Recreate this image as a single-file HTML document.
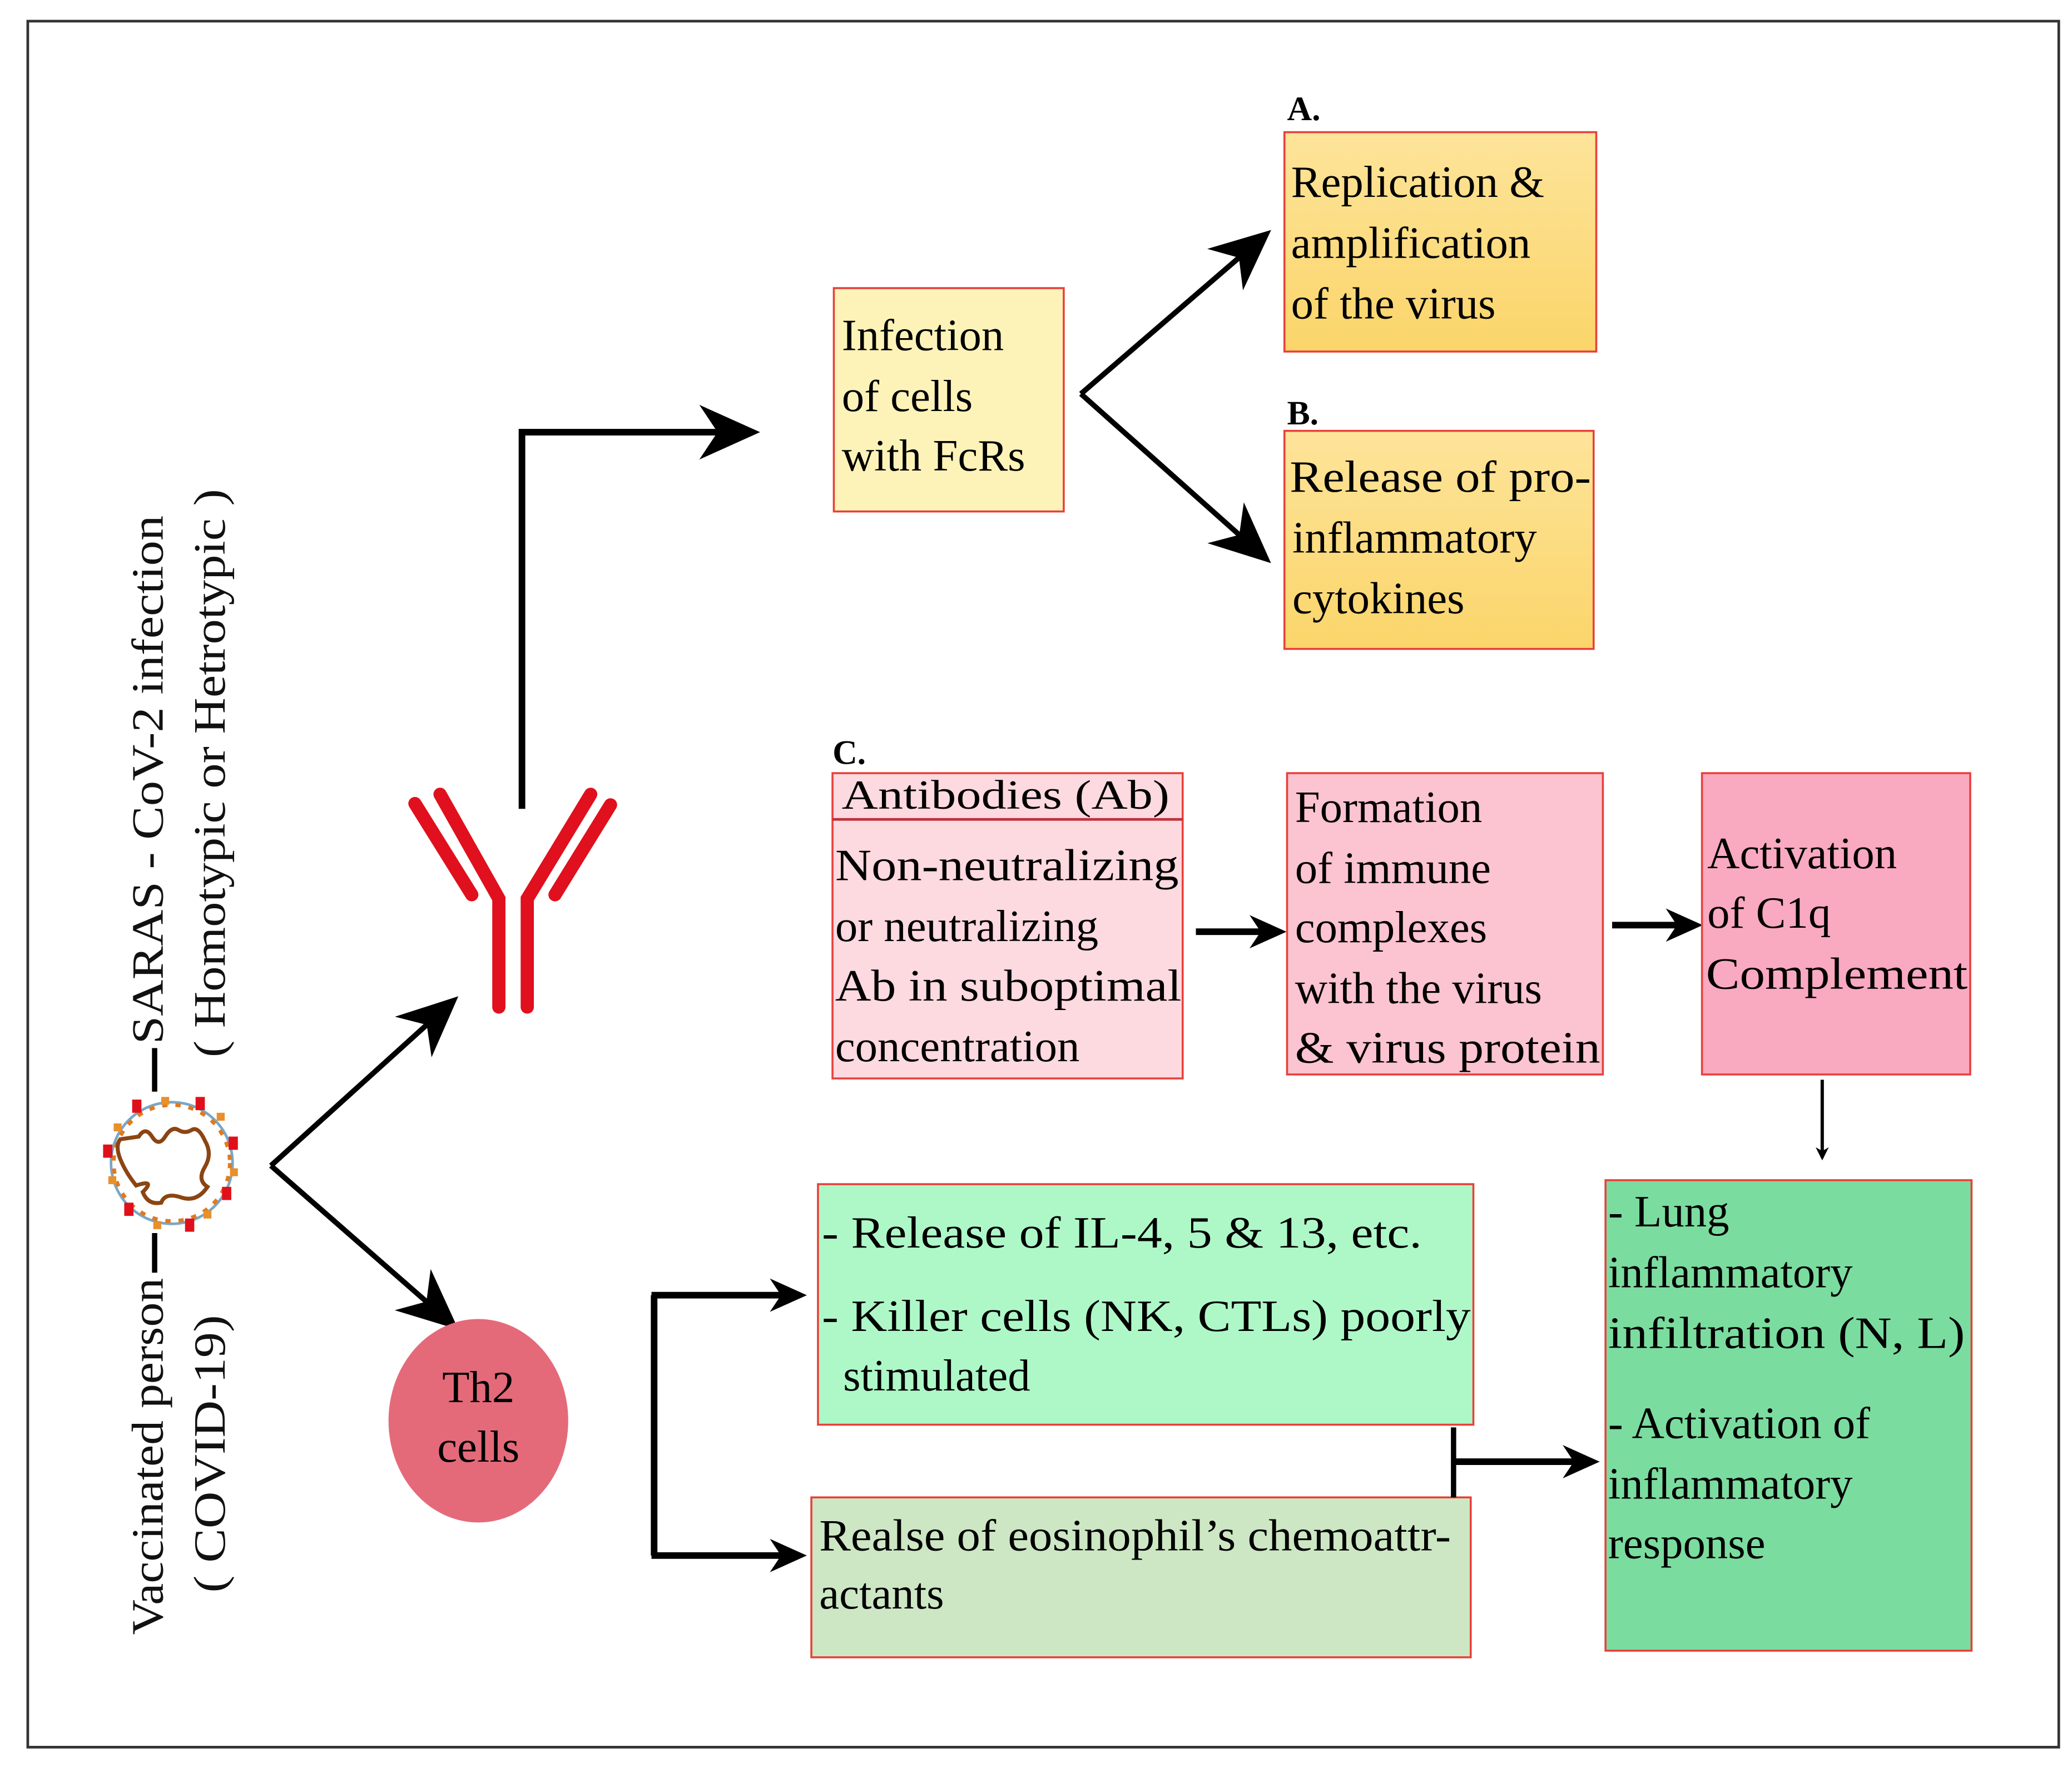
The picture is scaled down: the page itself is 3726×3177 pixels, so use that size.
<!DOCTYPE html>
<html><head><meta charset="utf-8"><style>html,body{margin:0;padding:0;background:#fff}svg{display:block}svg text{font-family:"Liberation Serif","Times New Roman",serif;font-size:34px}</style></head>
<body>
<svg xmlns="http://www.w3.org/2000/svg" width="3726" height="3177" viewBox="0 0 1568 1337">
<defs>
<marker id="ah" viewBox="0 0 20 20" refX="16" refY="10" markerWidth="10" markerHeight="10" markerUnits="userSpaceOnUse" orient="auto"><path d="M0,0 L20,10 L0,20 L6,10 Z" fill="#000"/></marker>
<marker id="ab" viewBox="0 0 20 20" refX="16" refY="10" markerWidth="46" markerHeight="46" markerUnits="userSpaceOnUse" orient="auto"><path d="M0,1 L20,10 L0,19 L6,10 Z" fill="#000"/></marker>
<marker id="am" viewBox="0 0 20 20" refX="16" refY="10" markerWidth="28" markerHeight="28" markerUnits="userSpaceOnUse" orient="auto"><path d="M0,1 L20,10 L0,19 L6,10 Z" fill="#000"/></marker>
<linearGradient id="gy" x1="0" y1="0" x2="0" y2="1"><stop offset="0" stop-color="#fde49a"/><stop offset="1" stop-color="#fbd56a"/></linearGradient>
</defs>
<rect x="0" y="0" width="1568" height="1337" fill="#fff"/>
<rect x="21" y="16" width="1537" height="1306" fill="none" stroke="#333" stroke-width="2"/>

<g fill="#111">
<text transform="translate(123,1237) rotate(-90)" textLength="270" lengthAdjust="spacingAndGlyphs">Vaccinated person</text>
<text transform="translate(123,790) rotate(-90)" textLength="400" lengthAdjust="spacingAndGlyphs">SARAS - CoV-2 infection</text>
<text transform="translate(170,1205) rotate(-90)" textLength="210" lengthAdjust="spacingAndGlyphs">( COVID-19)</text>
<text transform="translate(170,800) rotate(-90)" textLength="430" lengthAdjust="spacingAndGlyphs">( Homotypic or Hetrotypic )</text>
</g>
<line x1="117" y1="963" x2="117" y2="933" stroke="#000" stroke-width="4"/>
<line x1="117" y1="826" x2="117" y2="793" stroke="#000" stroke-width="4"/>

<g transform="translate(130,880)">
<circle r="46" fill="none" stroke="#7aa7c7" stroke-width="2"/>
<circle r="44" fill="none" stroke="#e07a20" stroke-width="3" stroke-dasharray="4 6"/>
<path d="M-25,-20 q5,-8 10,0 t10,0 t10,-5 t10,0 t10,8 q6,10 0,20 t2,15 q-8,12 -20,8 t-15,4 q-10,2 -14,-8 q10,-10 -5,-5 q-8,-10 -12,-20 t0,-15 z" fill="none" stroke="#8b4513" stroke-width="3"/>
<g fill="#e0101a">
<rect x="-52" y="-14" width="7" height="10"/><rect x="43" y="-20" width="7" height="10"/><rect x="38" y="18" width="7" height="10"/>
<rect x="-36" y="30" width="7" height="10"/><rect x="10" y="42" width="7" height="10"/><rect x="-30" y="-48" width="7" height="10"/><rect x="18" y="-50" width="7" height="10"/>
</g>
<g fill="#e8902a">
<rect x="-48" y="10" width="6" height="6"/><rect x="-8" y="-50" width="6" height="6"/><rect x="34" y="-38" width="6" height="6"/><rect x="44" y="4" width="6" height="6"/><rect x="-14" y="44" width="6" height="6"/><rect x="24" y="36" width="6" height="6"/><rect x="-44" y="-30" width="6" height="6"/>
</g>
</g>

<line x1="205" y1="882" x2="340" y2="760" stroke="#000" stroke-width="4" marker-end="url(#ab)"/>
<line x1="205" y1="882" x2="340" y2="1000" stroke="#000" stroke-width="4" marker-end="url(#ab)"/>

<g stroke="#e0101e" stroke-width="10" stroke-linecap="round" fill="none">
<polyline points="377.5,762 377.5,680 333,601"/>
<polyline points="399,762 399,680 447,601"/>
<line x1="314" y1="608" x2="357" y2="677"/>
<line x1="420" y1="677" x2="462" y2="609"/>
</g>
<polyline points="395,612 395,327 566,327" fill="none" stroke="#000" stroke-width="5" marker-end="url(#ab)"/>

<rect x="631" y="218" width="174" height="169" fill="#fdf3b8" stroke="#e8403a" stroke-width="1.5"/>
<text x="637" y="265">Infection</text><text x="637" y="311">of cells</text><text x="637" y="356">with FcRs</text>
<line x1="818" y1="298" x2="955" y2="180" stroke="#000" stroke-width="4" marker-end="url(#ab)"/>
<line x1="818" y1="298" x2="955" y2="420" stroke="#000" stroke-width="4" marker-end="url(#ab)"/>

<text x="974" y="91" font-weight="bold" style="font-size:26px">A.</text>
<rect x="972" y="100" width="236" height="166" fill="url(#gy)" stroke="#e8403a" stroke-width="1.5"/>
<text x="977" y="149">Replication &amp;</text><text x="977" y="195">amplification</text><text x="977" y="241">of the virus</text>
<text x="974" y="321" font-weight="bold" style="font-size:26px">B.</text>
<rect x="972" y="326" width="234" height="165" fill="url(#gy)" stroke="#e8403a" stroke-width="1.5"/>
<text x="976" y="372" textLength="228" lengthAdjust="spacingAndGlyphs">Release of pro-</text><text x="978" y="418">inflammatory</text><text x="978" y="464">cytokines</text>

<text x="630" y="578" font-weight="bold" style="font-size:26px">C.</text>
<rect x="630" y="585" width="265" height="231" fill="#fdd9e0" stroke="#e8403a" stroke-width="1.5"/>
<line x1="630" y1="620" x2="895" y2="620" stroke="#c0303a" stroke-width="2"/>
<text x="637" y="612" style="font-size:31px" textLength="248" lengthAdjust="spacingAndGlyphs">Antibodies (Ab)</text>
<text x="632" y="666" textLength="260" lengthAdjust="spacingAndGlyphs">Non-neutralizing</text>
<text x="632" y="712">or neutralizing</text>
<text x="632" y="757" textLength="262" lengthAdjust="spacingAndGlyphs">Ab in suboptimal</text>
<text x="632" y="803">concentration</text>
<line x1="905" y1="705" x2="968" y2="705" stroke="#000" stroke-width="5" marker-end="url(#am)"/>
<rect x="974" y="585" width="239" height="228" fill="#fcc3d0" stroke="#e8403a" stroke-width="1.5"/>
<text x="980" y="622">Formation</text><text x="980" y="668">of immune</text><text x="980" y="713">complexes</text><text x="980" y="759">with the virus</text>
<text x="980" y="804" textLength="231" lengthAdjust="spacingAndGlyphs">&amp; virus protein</text>
<line x1="1220" y1="700" x2="1283" y2="700" stroke="#000" stroke-width="5" marker-end="url(#am)"/>
<rect x="1288" y="585" width="203" height="228" fill="#f9a9c0" stroke="#e8403a" stroke-width="1.5"/>
<text x="1292" y="657">Activation</text><text x="1292" y="702">of C1q</text>
<text x="1291" y="748" textLength="198" lengthAdjust="spacingAndGlyphs">Complement</text>
<line x1="1379" y1="817" x2="1379" y2="876" stroke="#000" stroke-width="2.5" marker-end="url(#ah)"/>

<ellipse cx="362" cy="1075" rx="68" ry="77" fill="#e46a7a"/>
<text x="362" y="1061" text-anchor="middle">Th2</text><text x="362" y="1106" text-anchor="middle">cells</text>

<polyline points="495,980 495,1177" fill="none" stroke="#000" stroke-width="5"/>
<line x1="493" y1="980" x2="605" y2="980" stroke="#000" stroke-width="5" marker-end="url(#am)"/>
<line x1="493" y1="1177" x2="605" y2="1177" stroke="#000" stroke-width="5" marker-end="url(#am)"/>

<rect x="619" y="896" width="496" height="182" fill="#aef8c8" stroke="#e8403a" stroke-width="1.5"/>
<text x="622" y="944" textLength="454" lengthAdjust="spacingAndGlyphs">- Release of IL-4, 5 &amp; 13, etc.</text>
<text x="622" y="1007" textLength="491" lengthAdjust="spacingAndGlyphs">- Killer cells (NK, CTLs) poorly</text>
<text x="638" y="1052">stimulated</text>
<rect x="614" y="1133" width="499" height="121" fill="#cde7c4" stroke="#e8403a" stroke-width="1.5"/>
<text x="620" y="1173" textLength="478" lengthAdjust="spacingAndGlyphs">Realse of eosinophil’s chemoattr-</text>
<text x="620" y="1217">actants</text>
<line x1="1100" y1="1080" x2="1100" y2="1133" stroke="#000" stroke-width="4"/>
<line x1="1100" y1="1106" x2="1205" y2="1106" stroke="#000" stroke-width="5" marker-end="url(#am)"/>
<rect x="1215" y="893" width="277" height="356" fill="#7bdc9f" stroke="#e8403a" stroke-width="1.5"/>
<text x="1217" y="928">- Lung</text><text x="1217" y="974">inflammatory</text>
<text x="1217" y="1020" textLength="270" lengthAdjust="spacingAndGlyphs">infiltration (N, L)</text>
<text x="1217" y="1088">- Activation of</text><text x="1217" y="1134">inflammatory</text><text x="1217" y="1179">response</text>
</svg>
</body></html>
